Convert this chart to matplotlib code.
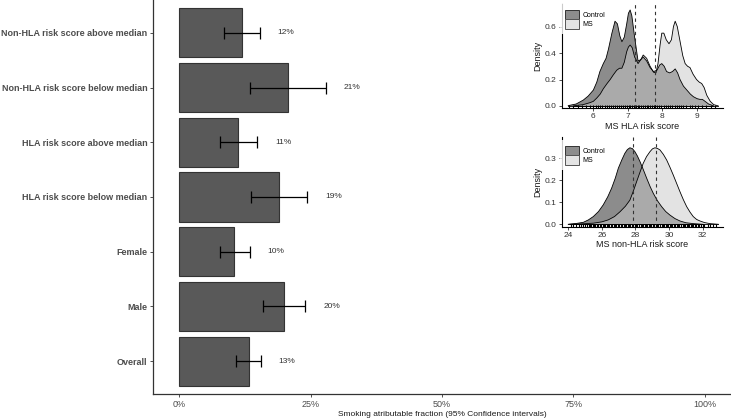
import numpy as np
import matplotlib
matplotlib.use('Agg')
import matplotlib.pyplot as plt
from matplotlib.patches import Patch
import matplotlib.transforms as mtransforms

plt.rcParams['font.family'] = ['Liberation Sans', 'DejaVu Sans']

# ---------------- main bar chart data ----------------
groups = ['Overall', 'Male', 'Female', 'HLA risk score below median',
          'HLA risk score above median', 'Non-HLA risk score below median',
          'Non-HLA risk score above median']
paf   = [13.2, 20.0, 10.5, 19.0, 11.2, 20.7, 11.9]
lower = [10.8, 16.0, 7.7, 13.6, 7.7, 13.4, 8.6]
upper = [15.5, 24.0, 13.4, 24.3, 14.8, 27.9, 15.3]
labels = ['13%', '20%', '10%', '19%', '11%', '21%', '12%']
xticks = [0, 25, 50, 75, 100]
xticklabels = ['0%', '25%', '50%', '75%', '100%']

# ---------------- HLA density ----------------
hla_ctrl_x = [5.27, 5.5, 5.71, 5.85, 6.0, 6.1, 6.19, 6.29, 6.37, 6.44, 6.54, 6.63, 6.7, 6.77,
              6.83, 6.9, 6.97, 7.02, 7.07, 7.12, 7.2, 7.3, 7.38, 7.45, 7.55, 7.65, 7.75, 7.85,
              7.93, 7.99, 8.06, 8.13, 8.22, 8.3, 8.38, 8.45, 8.52, 8.62, 8.72, 8.82, 8.91, 9.02,
              9.1, 9.17, 9.25, 9.35, 9.49]
hla_ctrl_y = [0.003, 0.015, 0.045, 0.075, 0.12, 0.18, 0.26, 0.32, 0.36, 0.43, 0.55, 0.64, 0.62, 0.53,
              0.485, 0.52, 0.62, 0.70, 0.725, 0.68, 0.52, 0.34, 0.35, 0.37, 0.34, 0.29, 0.26, 0.27,
              0.31, 0.32, 0.30, 0.26, 0.25, 0.26, 0.28, 0.25, 0.2, 0.15, 0.12, 0.09, 0.07, 0.055,
              0.05, 0.05, 0.035, 0.015, 0.002]
hla_ms_x = [5.45, 5.7, 5.9, 6.0, 6.1, 6.2, 6.29, 6.4, 6.49, 6.58, 6.68, 6.76, 6.83, 6.9, 6.97,
            7.02, 7.07, 7.13, 7.2, 7.3, 7.38, 7.45, 7.55, 7.65, 7.75, 7.82, 7.88, 7.94, 7.99,
            8.05, 8.12, 8.2, 8.27, 8.33, 8.38, 8.44, 8.52, 8.6, 8.67, 8.74, 8.81, 8.9, 9.0,
            9.08, 9.15, 9.22, 9.3, 9.4, 9.5, 9.63]
hla_ms_y = [0.002, 0.01, 0.025, 0.035, 0.06, 0.09, 0.13, 0.17, 0.2, 0.235, 0.27, 0.285, 0.285, 0.33, 0.41,
            0.445, 0.46, 0.44, 0.37, 0.32, 0.35, 0.385, 0.36, 0.3, 0.255, 0.25, 0.32, 0.46, 0.55,
            0.55, 0.5, 0.47, 0.5, 0.6, 0.64, 0.6, 0.49, 0.38, 0.32, 0.3, 0.29, 0.24, 0.2,
            0.18, 0.17, 0.14, 0.08, 0.035, 0.01, 0.001]
hla_medians = [7.22, 7.80]
hla_rug = [5.3, 5.42, 5.55, 5.68, 5.8, 5.9, 5.98, 6.08, 6.15, 6.2, 6.26, 6.33, 6.4, 6.45, 6.52,
           6.58, 6.62, 6.68, 6.74, 6.8, 6.86, 6.92, 6.97, 7.03, 7.07, 7.12, 7.18, 7.24, 7.3,
           7.34, 7.4, 7.45, 7.5, 7.55, 7.6, 7.64, 7.7, 7.75, 7.8, 7.86, 7.92, 7.98, 8.04,
           8.1, 8.16, 8.22, 8.3, 8.38, 8.44, 8.5, 8.56, 8.62, 8.7, 8.8, 8.88, 8.95, 9.05,
           9.15, 9.28, 9.42, 9.55]

# ---------------- non-HLA density ----------------
nhla_ctrl_x = [24.0, 24.5, 24.9, 25.2, 25.49, 25.8, 26.08, 26.35, 26.58, 26.8, 26.98, 27.2, 27.37,
               27.52, 27.67, 27.82, 27.97, 28.12, 28.27, 28.47, 28.67, 28.87, 29.06, 29.3, 29.56,
               29.8, 30.05, 30.35, 30.65, 31.0, 31.44, 32.0]
nhla_ctrl_y = [0.0, 0.004, 0.009, 0.02, 0.035, 0.058, 0.088, 0.125, 0.164, 0.21, 0.255, 0.295, 0.323,
               0.34, 0.348, 0.344, 0.33, 0.31, 0.285, 0.248, 0.209, 0.172, 0.141, 0.108, 0.08,
               0.058, 0.042, 0.026, 0.015, 0.007, 0.003, 0.0]
nhla_ms_x = [24.1, 24.8, 25.49, 26.0, 26.38, 26.75, 27.08, 27.4, 27.67, 27.87, 28.07, 28.27, 28.46,
             28.66, 28.86, 29.01, 29.16, 29.31, 29.46, 29.66, 29.86, 30.05, 30.25, 30.45, 30.65,
             30.85, 31.05, 31.25, 31.44, 31.64, 31.84, 32.1, 32.43, 32.93]
nhla_ms_y = [0.0, 0.002, 0.005, 0.011, 0.02, 0.035, 0.057, 0.082, 0.11, 0.15, 0.194, 0.237, 0.277,
             0.308, 0.33, 0.343, 0.348, 0.345, 0.338, 0.318, 0.292, 0.26, 0.224, 0.186, 0.148,
             0.112, 0.08, 0.055, 0.035, 0.022, 0.015, 0.008, 0.003, 0.0]
nhla_medians = [27.87, 29.21]
nhla_rug = [24.15, 24.3, 24.45, 24.62, 24.75, 24.9, 25.0, 25.12, 25.22, 25.3, 25.38, 25.45, 25.55,
            25.62, 25.7, 25.8, 25.87, 25.95, 26.05, 26.12, 26.2, 26.3, 26.37, 26.45, 26.55, 26.62,
            26.7, 26.8, 26.87, 26.95, 27.05, 27.12, 27.2, 27.3, 27.37, 27.45, 27.55, 27.62, 27.7,
            27.8, 27.87, 27.95, 28.05, 28.12, 28.2, 28.3, 28.37, 28.45, 28.55, 28.62, 28.7, 28.8,
            28.87, 28.95, 29.05, 29.12, 29.2, 29.3, 29.37, 29.45, 29.55, 29.62, 29.7, 29.8, 29.87,
            29.95, 30.05, 30.12, 30.2, 30.3, 30.37, 30.45, 30.55, 30.62, 30.7, 30.8, 30.87, 30.95,
            31.05, 31.12, 31.2, 31.3, 31.37, 31.45, 31.55, 31.62, 31.7, 31.8, 31.9, 32.0, 32.1,
            32.3, 32.45, 32.6, 32.8]

W, H = 731, 418
fig = plt.figure(figsize=(W / 100, H / 100), dpi=100)

def px_axes(x0, x1, ytop, ybot):
    return fig.add_axes([x0 / W, (H - ybot) / H, (x1 - x0) / W, (ybot - ytop) / H])

txtcol = '#4d4d4d'

# ---------------- main panel ----------------
ax = px_axes(153, 731, 0, 394)
pos = np.arange(1, len(groups) + 1)
ax.barh(pos, paf, height=0.9, color='#595959', edgecolor='#333333', linewidth=0.8, zorder=2)
xerr = [np.array(paf) - np.array(lower), np.array(upper) - np.array(paf)]
ax.errorbar(paf, pos, xerr=xerr, fmt='none', ecolor='black', elinewidth=0.9,
            capsize=4.2, capthick=0.9, zorder=3)
for p, u, lab in zip(pos, upper, labels):
    ax.text(u + 5, p, lab, ha='center', va='center', fontsize=6, color='#333333')
ax.set_xlim(-5, 105)
ax.set_ylim(0.4, len(groups) + 0.6)
ax.set_yticks(pos)
ax.set_yticklabels(groups, fontsize=6.5, fontweight='bold', color=txtcol)
ax.set_xticks(xticks)
ax.set_xticklabels(xticklabels, fontsize=6.5, color=txtcol)
ax.tick_params(length=2.5, width=0.6, color='#333333', pad=1.5)
for s in ['top', 'right']:
    ax.spines[s].set_visible(False)
for s in ['left', 'bottom']:
    ax.spines[s].set_color('#333333')
    ax.spines[s].set_linewidth(0.9)
ax.set_xlabel('Smoking atributable fraction (95% Confidence intervals)', fontsize=6,
              color='#1a1a1a', labelpad=2)

# ---------------- density insets ----------------
ctrl_col, ms_col = '#1a1a1a', '#c8c8c8'

def density_panel(a, cx, cy, mx, my, meds, rug, xlim, ylim, xt, yt, yfmt, xlabel, legy):
    a.fill_between(cx, 0, cy, facecolor=ctrl_col, alpha=0.5, edgecolor='none', zorder=2)
    a.fill_between(mx, 0, my, facecolor=ms_col, alpha=0.5, edgecolor='none', zorder=2)
    a.plot(cx, cy, color='black', lw=0.6, zorder=3)
    a.plot([cx[0], cx[-1]], [0, 0], color='black', lw=0.6, zorder=3)
    a.plot(mx, my, color='black', lw=0.6, zorder=3)
    a.plot([mx[0], mx[-1]], [0, 0], color='black', lw=0.6, zorder=3)
    for m in meds:
        a.axvline(m, color='#333333', lw=0.8, ls=(0, (3, 3)), zorder=4)
    trans = mtransforms.blended_transform_factory(a.transData, a.transAxes)
    a.vlines(rug, 0, 0.03, transform=trans, color='black', lw=0.8, zorder=4)
    a.set_xlim(*xlim)
    a.set_ylim(*ylim)
    a.set_xticks(xt)
    a.set_yticks(yt)
    a.set_yticklabels([yfmt.format(v) for v in yt])
    a.tick_params(labelsize=6, labelcolor='#333333', length=2, width=0.6, color='#333333', pad=1.5)
    for s in ['top', 'right']:
        a.spines[s].set_visible(False)
    for s in ['left', 'bottom']:
        a.spines[s].set_color('black')
        a.spines[s].set_linewidth(0.8)
    a.set_ylabel('Density', fontsize=6.5, color='#1a1a1a', labelpad=2)
    a.set_xlabel(xlabel, fontsize=6.5, color='#1a1a1a', labelpad=1)
    handles = [Patch(facecolor='#8d8d8d', edgecolor='#333333', linewidth=0.7),
               Patch(facecolor='#e4e4e4', edgecolor='#555555', linewidth=0.7)]
    leg = a.legend(handles, ['Control', 'MS'], loc='upper left', bbox_to_anchor=(-0.011, legy),
                   borderaxespad=0, fontsize=5, frameon=True, fancybox=False,
                   handlelength=1.95, handleheight=1.72, labelspacing=0.0, handletextpad=0.5,
                   borderpad=0.8)
    leg.get_frame().set_facecolor('white')
    leg.get_frame().set_edgecolor('none')
    leg.set_zorder(10)

ax1 = px_axes(561.7, 723, 4, 108.3)
density_panel(ax1, hla_ctrl_x, hla_ctrl_y, hla_ms_x, hla_ms_y, hla_medians, hla_rug,
              (5.08, 9.77), (-0.0174, 0.77), [6, 7, 8, 9], [0.0, 0.2, 0.4, 0.6], '{:.1f}',
              'MS HLA risk score', 0.996)

ax2 = px_axes(561.7, 723, 137, 226.7)
density_panel(ax2, nhla_ctrl_x, nhla_ctrl_y, nhla_ms_x, nhla_ms_y, nhla_medians, nhla_rug,
              (23.61, 33.21), (-0.011, 0.397), [24, 26, 28, 30, 32], [0.0, 0.1, 0.2, 0.3], '{:.1f}',
              'MS non-HLA risk score', 0.965)

fig.savefig('out.png', dpi=100)
